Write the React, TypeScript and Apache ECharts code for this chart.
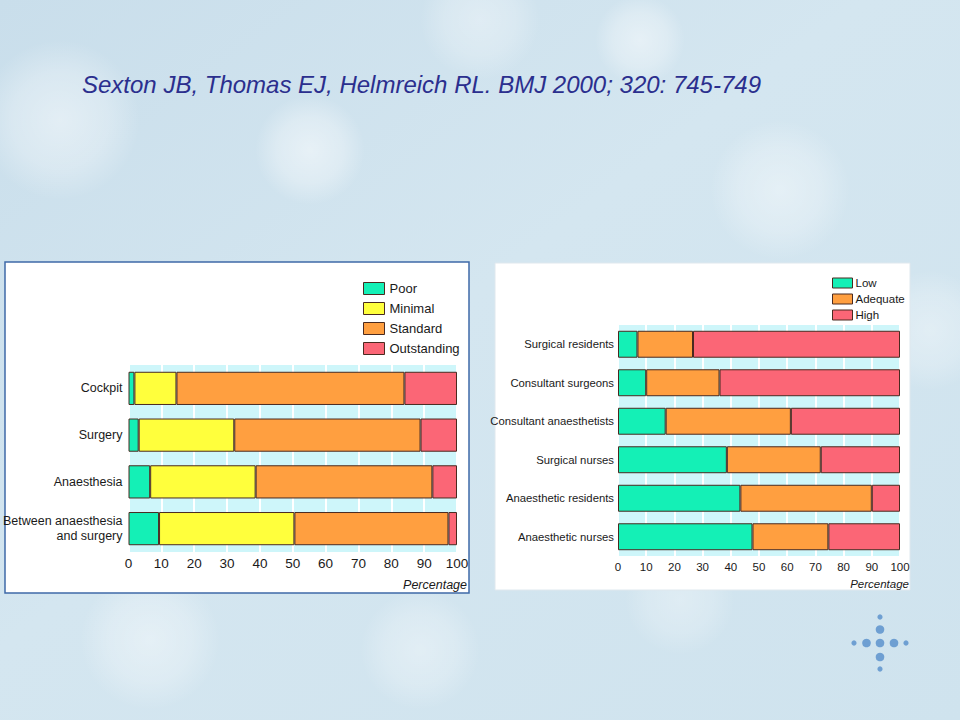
import React, { useEffect, useRef } from "react";
import * as echarts from "echarts";

const leftCategories = ["Cockpit", "Surgery", "Anaesthesia", "Between anaesthesia\nand surgery"];
const leftSeriesNames = ["Poor", "Minimal", "Standard", "Outstanding"];
const leftPoor = [1.8, 3.1, 6.6, 9.3];
const leftMinimal = [12.8, 29.1, 32.1, 41.2];
const leftStandard = [69.4, 56.7, 53.8, 46.9];
const leftOutstanding = [16.0, 11.1, 7.5, 2.6];

const rightCategories = [
  "Surgical residents",
  "Consultant surgeons",
  "Consultant anaesthetists",
  "Surgical nurses",
  "Anaesthetic residents",
  "Anaesthetic nurses",
];
const rightSeriesNames = ["Low", "Adequate", "High"];
const rightLow = [6.9, 10.0, 16.9, 38.6, 43.4, 47.7];
const rightAdequate = [19.7, 26.0, 44.4, 33.3, 46.6, 26.9];
const rightHigh = [73.4, 64.0, 38.7, 28.1, 10.0, 25.4];

const xTicks = [0, 10, 20, 30, 40, 50, 60, 70, 80, 90, 100];

const COLORS: Record<string, string> = {
  Poor: "#14f0b6",
  Minimal: "#ffff3c",
  Standard: "#ff9f40",
  Outstanding: "#fb6676",
  Low: "#14f0b6",
  Adequate: "#ff9f40",
  High: "#fb6676",
};

const FONT = "'Liberation Sans', Arial, sans-serif";

export default function App() {
  const ref = useRef<HTMLDivElement>(null);
  useEffect(() => {
    if (!ref.current) return;
    const chart = echarts.init(ref.current, null, { renderer: "svg" });

    const mkX = (gridIndex: number, fs: number, margin: number) => ({
      type: "value",
      gridIndex,
      min: 0,
      max: 100,
      interval: 10,
      axisLine: { show: false },
      axisTick: { show: false },
      splitLine: { show: true, lineStyle: { color: "#ffffff", width: 2 } },
      axisLabel: {
        color: "#1a1a1a",
        fontSize: fs,
        fontFamily: FONT,
        margin,
        formatter: (v: number) => (xTicks.includes(v) ? String(v) : ""),
      },
    });
    const mkY = (gridIndex: number, cats: string[], fs: number, margin: number) => ({
      type: "category",
      gridIndex,
      data: cats,
      inverse: true,
      axisLine: { show: false },
      axisTick: { show: false },
      splitLine: { show: false },
      axisLabel: {
        color: "#1a1a1a",
        fontSize: fs,
        fontFamily: FONT,
        margin,
        lineHeight: fs + 3,
        align: "right",
      },
    });

    const border = { borderColor: "#4a2a20", borderWidth: 1 };
    const leftData = [leftPoor, leftMinimal, leftStandard, leftOutstanding];
    const rightData = [rightLow, rightAdequate, rightHigh];

    const series: any[] = [];
    leftSeriesNames.forEach((n, i) => {
      series.push({
        type: "bar",
        name: n,
        stack: "left",
        xAxisIndex: 0,
        yAxisIndex: 0,
        barWidth: "71%",
        data: leftData[i],
        itemStyle: { color: COLORS[n], ...border },
      });
    });
    rightSeriesNames.forEach((n, i) => {
      series.push({
        type: "bar",
        name: n,
        stack: "right",
        xAxisIndex: 1,
        yAxisIndex: 1,
        barWidth: "70%",
        data: rightData[i],
        itemStyle: { color: COLORS[n], ...border },
      });
    });

    const bokeh = [
      [60, 120, 80, 0.45],
      [310, 150, 55, 0.5],
      [640, 40, 45, 0.45],
      [780, 190, 70, 0.4],
      [930, 330, 60, 0.35],
      [150, 640, 70, 0.4],
      [420, 650, 60, 0.35],
      [680, 600, 55, 0.3],
      [480, 20, 60, 0.35],
    ].map(([x, y, r, o]) => ({
      type: "circle",
      shape: { cx: x, cy: y, r },
      style: {
        fill: {
          type: "radial",
          x: 0.5,
          y: 0.5,
          r: 0.5,
          colorStops: [
            { offset: 0, color: `rgba(255,255,255,${o})` },
            { offset: 0.6, color: `rgba(255,255,255,${o * 0.6})` },
            { offset: 1, color: "rgba(255,255,255,0)" },
          ],
        },
      },
      silent: true,
      z: -10,
    }));

    const dotColor = "#6e9fd2";
    const dots = [
      [880, 617, 2.6],
      [880, 629.5, 4.3],
      [880, 643, 4.3],
      [880, 657, 4.3],
      [880, 669, 2.6],
      [854, 643, 2.6],
      [866.5, 643, 4.3],
      [894, 643, 4.3],
      [906, 643, 2.6],
    ].map(([x, y, r]) => ({
      type: "circle",
      shape: { cx: x, cy: y, r },
      style: { fill: dotColor },
      silent: true,
    }));

    chart.setOption({
      animation: false,
      backgroundColor: {
        type: "linear",
        x: 0,
        y: 0,
        x2: 1,
        y2: 1,
        colorStops: [
          { offset: 0, color: "#c9deeb" },
          { offset: 0.45, color: "#d4e6f0" },
          { offset: 1, color: "#cfe3ee" },
        ],
      },
      graphic: [
        ...bokeh,
        {
          type: "rect",
          shape: { x: 5, y: 262, width: 464, height: 331 },
          style: { fill: "#ffffff", stroke: "#3f6aa8", lineWidth: 1.5 },
          z: -5,
          silent: true,
        },
        {
          type: "rect",
          shape: { x: 495, y: 263, width: 415, height: 327 },
          style: { fill: "#ffffff", stroke: "#dfe8ee", lineWidth: 1 },
          z: -5,
          silent: true,
        },
        {
          type: "text",
          x: 82,
          y: 84,
          style: {
            text: "Sexton JB, Thomas EJ, Helmreich RL. BMJ 2000; 320: 745-749",
            fill: "#2b2f8e",
            fontSize: 24,
            fontStyle: "italic",
            fontFamily: FONT,
            verticalAlign: "middle",
          },
        },
        {
          type: "text",
          x: 467,
          y: 585,
          style: {
            text: "Percentage",
            fill: "#1a1a1a",
            fontSize: 12.5,
            fontStyle: "italic",
            fontFamily: FONT,
            align: "right",
            verticalAlign: "middle",
          },
        },
        {
          type: "text",
          x: 909,
          y: 584,
          style: {
            text: "Percentage",
            fill: "#1a1a1a",
            fontSize: 11.5,
            fontStyle: "italic",
            fontFamily: FONT,
            align: "right",
            verticalAlign: "middle",
          },
        },
        ...dots,
      ],
      legend: [
        {
          data: leftSeriesNames,
          orient: "vertical",
          left: 363,
          top: 280.5,
          padding: 0,
          itemWidth: 21,
          itemHeight: 12,
          itemGap: 4,
          icon: "rect",
          itemStyle: { borderColor: "#4a2a20", borderWidth: 1 },
          textStyle: { color: "#1a1a1a", fontSize: 13, lineHeight: 16, fontFamily: FONT },
          selectedMode: false,
        },
        {
          data: rightSeriesNames,
          orient: "vertical",
          left: 832,
          top: 276,
          padding: 0,
          itemWidth: 20,
          itemHeight: 10,
          itemGap: 2,
          icon: "rect",
          itemStyle: { borderColor: "#4a2a20", borderWidth: 1 },
          textStyle: { color: "#1a1a1a", fontSize: 11.5, lineHeight: 14, fontFamily: FONT, padding: [0, 0, 0, -2] },
          selectedMode: false,
        },
      ],
      grid: [
        {
          left: 128.5,
          top: 365,
          width: 328.5,
          height: 187,
          show: true,
          backgroundColor: "#cef6fa",
          borderWidth: 0,
          containLabel: false,
          outerBoundsMode: "none",
        },
        {
          left: 618,
          top: 325,
          width: 282,
          height: 231,
          show: true,
          backgroundColor: "#cef6fa",
          borderWidth: 0,
          containLabel: false,
          outerBoundsMode: "none",
        },
      ],
      xAxis: [mkX(0, 13.5, 4), mkX(1, 11.5, 5)],
      yAxis: [mkY(0, leftCategories, 12.5, 6), mkY(1, rightCategories, 11.3, 4)],
      series,
    });
    return () => chart.dispose();
  }, []);
  return (
    <div
      ref={ref}
      style={{ position: "fixed", left: 0, top: 0, width: 960, height: 720 }}
    />
  );
}
